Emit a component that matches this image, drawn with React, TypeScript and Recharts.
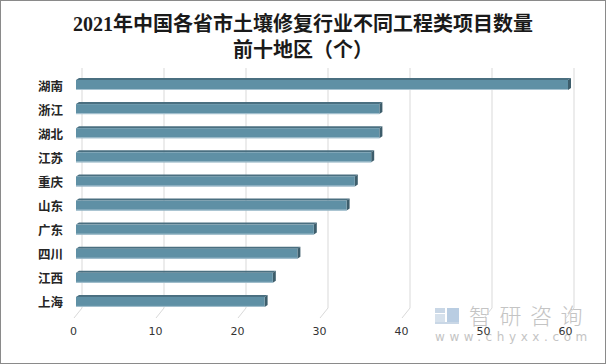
import { BarChart, Bar, XAxis, YAxis, CartesianGrid } from 'recharts';

const TITLE_LINE_1 = '2021年中国各省市土壤修复行业不同工程类项目数量';
const TITLE_LINE_2 = '前十地区（个）';

const regions = ['湖南', '浙江', '湖北', '江苏', '重庆', '山东', '广东', '四川', '江西', '上海'];
const counts = [60, 37, 37, 36, 34, 33, 29, 27, 24, 23];
const xTicks = [0, 10, 20, 30, 40, 50, 60];

const data = regions.map((name, i) => ({ name, value: counts[i] }));

// 3D offsets (Excel-style bar depth and back wall shift)
const DX = 3;
const DY = 2;
const WALL_DX = 6;

function Bar3D(props: any) {
    const { x, y, width, height } = props;
    if (!width || width <= 0) return null;
    return (
        <g>
            <polygon
                points={`${x},${y} ${x + DX},${y - DY} ${x + width + DX},${y - DY} ${x + width},${y}`}
                fill="#4a6f80"
            />
            <polygon
                points={`${x + width},${y} ${x + width + DX},${y - DY} ${x + width + DX},${y + height - DY} ${x + width},${y + height}`}
                fill="#3d5d6b"
            />
            <rect x={x} y={y} width={width} height={height} fill="#5f90a5" />
            <line x1={x} y1={y + height - 0.5} x2={x + width} y2={y + height - 0.5} stroke="#a8c3d1" strokeWidth={1} />
        </g>
    );
}

function GridLine(props: any) {
    const { x1, y1, y2 } = props;
    const bx = x1 + WALL_DX;
    const floor = y2 - 6;
    return (
        <g key={props.key}>
            <line x1={bx} y1={y1 - 5} x2={bx} y2={floor} stroke="#d9d9d9" strokeWidth={1} />
            <line x1={bx} y1={floor} x2={x1 - 2} y2={y2 + 4} stroke="#d9d9d9" strokeWidth={1} />
        </g>
    );
}

function XTick(props: any) {
    const { x, payload } = props;
    return (
        <text x={x - 2.5} y={331} textAnchor="middle" dominantBaseline="central"
            fontSize={11} fill="#333" fontFamily="'DejaVu Sans', sans-serif">
            {payload.value}
        </text>
    );
}

function YTick(props: any) {
    const { y, payload } = props;
    return (
        <text x={63} y={y} textAnchor="end" dominantBaseline="central"
            fontSize={12.5} fontWeight="bold" fill="#262626" fontFamily="'Noto Sans CJK SC', sans-serif">
            {payload.value}
        </text>
    );
}

export default function App() {
    return (
        <div style={{ position: 'absolute', left: 0, top: 0, width: 606, height: 364, background: '#fff' }}>
            {/* watermark (behind the chart) */}
            <svg style={{ position: 'absolute', left: 430, top: 298 }} width={174} height={52}>
                <rect x={5} y={10} width={10} height={5} fill="#c9d7e6" />
                <rect x={5} y={16} width={10} height={8} fill="#d6e1ec" />
                <rect x={17} y={10} width={12} height={14} fill="#b9cde2" />
                <rect x={5} y={24} width={24} height={2} fill="#c9d7e6" />
                <text x={39} y={26} fontSize={22} fill="#c4c4c4" letterSpacing={8.5} fontWeight={300}
                    fontFamily="'Noto Sans CJK SC', sans-serif">智研咨询</text>
                <text x={5} y={43} fontSize={12} fill="#c4c4c4" letterSpacing={4.6}
                    fontFamily="'DejaVu Sans', sans-serif">www.chyxx.com</text>
            </svg>

            <div style={{ position: 'absolute', left: 0, top: 0 }}>
                <BarChart
                    width={606}
                    height={364}
                    data={data}
                    layout="vertical"
                    margin={{ top: 73, right: 38, bottom: 0, left: 0 }}
                >
                    <CartesianGrid horizontal={false} vertical={GridLine} />
                    <XAxis
                        type="number"
                        domain={[0, 60]}
                        ticks={xTicks}
                        axisLine={false}
                        tickLine={false}
                        height={50}
                        tick={XTick}
                    />
                    <YAxis
                        type="category"
                        dataKey="name"
                        width={76}
                        interval={0}
                        axisLine={false}
                        tickLine={false}
                        tick={YTick}
                    />
                    <Bar dataKey="value" barSize={10} shape={Bar3D} isAnimationActive={false} />
                </BarChart>
            </div>

            {/* title */}
            <div style={{
                position: 'absolute', left: 0, top: 11, width: 606, textAlign: 'center',
                fontFamily: "'Liberation Serif', 'Noto Sans CJK SC', serif", fontWeight: 600,
                fontSize: 20, lineHeight: '26px', color: '#1a1a1a'
            }}>
                <div>{TITLE_LINE_1}</div>
                <div>{TITLE_LINE_2}</div>
            </div>

            <div style={{ position: 'absolute', left: 0, top: 0, width: 606, height: 364, boxSizing: 'border-box', border: '1px solid #8a8a8a', pointerEvents: 'none' }} />
        </div>
    );
}
